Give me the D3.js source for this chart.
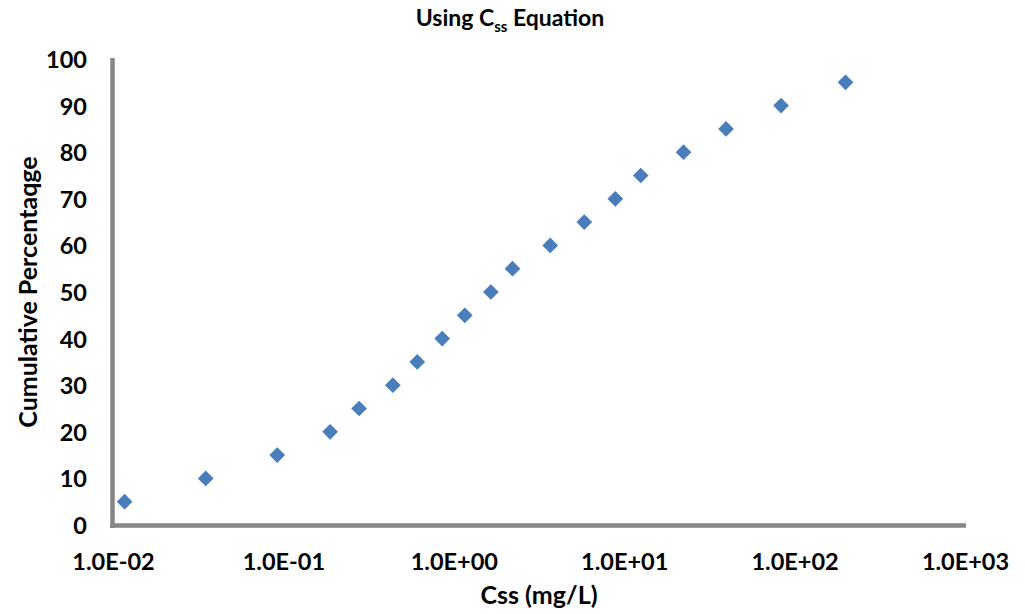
<!DOCTYPE html>
<html>
<head>
<meta charset="utf-8">
<script src="https://cdn.jsdelivr.net/npm/d3@7"></script>
<style>
  body { margin: 0; background: #fff; }
  text { font-family: Lato, "Open Sans", sans-serif; font-weight: bold; fill: #000; }
</style>
</head>
<body>
<script>
// values
var cumPct = [5, 10, 15, 20, 25, 30, 35, 40, 45, 50, 55, 60, 65, 70, 75, 80, 85, 90, 95];
var css = [0.0117, 0.035, 0.092, 0.188, 0.278, 0.439, 0.61, 0.855, 1.16, 1.65, 2.21,
           3.68, 5.83, 8.87, 12.5, 22.3, 39.6, 83.3, 199];
var xTicks = [1e-2, 1e-1, 1e0, 1e1, 1e2, 1e3];
var xTickLabels = ["1.0E-02", "1.0E-01", "1.0E+00", "1.0E+01", "1.0E+02", "1.0E+03"];
var yTicks = [0, 10, 20, 30, 40, 50, 60, 70, 80, 90, 100];

var data = css.map(function(c, i){ return {x: c, y: cumPct[i]}; });

var width = 1025, height = 614;

var svg = d3.select("body").append("svg")
	.attr("width", width)
	.attr("height", height);

var x = d3.scaleLog().domain([1e-2, 1e3]).range([113, 965]);
var y = d3.scaleLinear().domain([0, 100]).range([525, 59]);

// axes, no tick marks, grey heavy lines
var xAxis = svg.append("g")
	.attr("transform", "translate(0,525)")
	.call(d3.axisBottom(x).tickValues(xTicks).tickSize(0)
		.tickFormat(function(d, i){ return xTickLabels[i]; }));
xAxis.select(".domain").remove();
xAxis.selectAll("text")
	.attr("dy", 0).attr("y", 45)
	.style("font-size", "23.5px");

var yAxis = svg.append("g")
	.attr("transform", "translate(113,0)")
	.call(d3.axisLeft(y).tickValues(yTicks).tickSize(0));
yAxis.select(".domain").remove();
yAxis.selectAll("text")
	.attr("x", -26).attr("dy", "0.36em")
	.style("font-size", "23.5px");

svg.append("line")
	.attr("x1", 112.5).attr("x2", 112.5)
	.attr("y1", 58).attr("y2", 528)
	.attr("stroke", "#868686").attr("stroke-width", 4.5);
svg.append("line")
	.attr("x1", 110).attr("x2", 966)
	.attr("y1", 525.5).attr("y2", 525.5)
	.attr("stroke", "#868686").attr("stroke-width", 4.5);

// diamond markers
var diamond = d3.symbol().type(d3.symbolSquare).size(124);
svg.selectAll("path.pt")
	.data(data)
	.enter()
	.append("path")
	.attr("class", "pt")
	.attr("d", diamond)
	.attr("transform", function(d){ return "translate(" + x(d.x) + "," + y(d.y) + ") rotate(45)"; })
	.style("fill", "#4a7ebb");

// title
var title = svg.append("text")
	.attr("x", 510).attr("y", 26)
	.attr("text-anchor", "middle")
	.style("font-size", "23px");
title.append("tspan").text("Using C");
title.append("tspan").attr("dy", 6).style("font-size", "15px").text("ss");
title.append("tspan").attr("dy", -6).text(" Equation");

svg.append("text")
	.attr("x", 539).attr("y", 604)
	.attr("text-anchor", "middle")
	.style("font-size", "25px")
	.text("Css (mg/L)");

svg.append("text")
	.attr("transform", "translate(37,292) rotate(-90)")
	.attr("text-anchor", "middle")
	.style("font-size", "25px")
	.text("Cumulative Percentaqge");
</script>
</body>
</html>
